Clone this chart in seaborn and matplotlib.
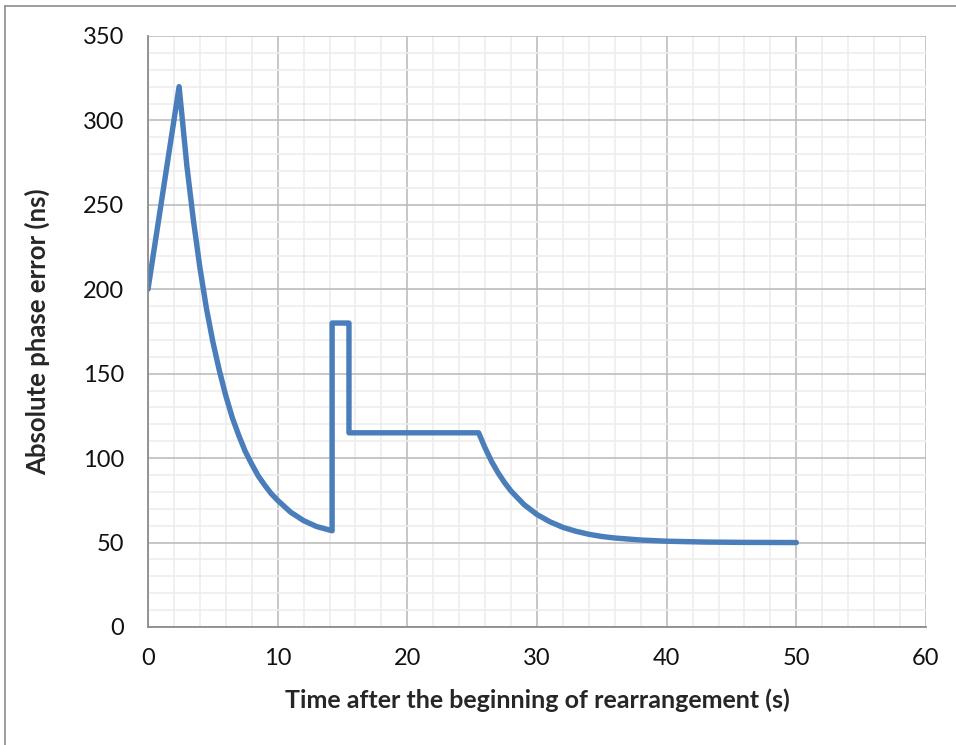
import matplotlib
matplotlib.use("Agg")
import matplotlib.pyplot as plt
import seaborn as sns
import pandas as pd
from matplotlib.lines import Line2D
from matplotlib.ticker import MultipleLocator

# values
time_s = [0, 2.4, 3, 3.5, 4, 4.5, 5, 5.5, 6, 6.5, 7, 7.5, 8, 8.5, 9, 9.5, 10, 11, 12, 13, 14.2,
          14.2, 15.5, 15.5, 25.5,
          26, 26.5, 27, 27.5, 28, 29, 30, 31, 32, 33, 34, 35, 36, 38, 40, 43, 46, 50]
phase_err_ns = [200, 320, 273, 241, 213, 189, 169, 152, 137, 124, 113.5, 104, 96.5, 89.5, 84, 79, 75, 68, 63, 59.5, 57,
                180, 180, 115, 115,
                106, 98, 91.3, 85.5, 80.5, 72.5, 66.6, 62.3, 59, 56.7, 54.9, 53.6, 52.7, 51.5, 50.8, 50.3, 50.1, 50]

x_ticks = [0, 10, 20, 30, 40, 50, 60]
y_ticks = [0, 50, 100, 150, 200, 250, 300, 350]

df = pd.DataFrame({'t': time_s, 'err': phase_err_ns})

sns.set_style("white")
plt.rcParams['font.family'] = ['Lato', 'DejaVu Sans']

fig = plt.figure(figsize=(9.56, 7.45), dpi=100)
ax = fig.add_axes([0.1548, 0.1584, 0.8138, 0.7933])

# grid first so the line sits on top
ax.xaxis.set_minor_locator(MultipleLocator(2))
ax.yaxis.set_minor_locator(MultipleLocator(10))
ax.grid(which='minor', color='#EDEDED', linewidth=1.2, zorder=0)
ax.grid(which='major', color='#BDBDBD', linewidth=1.2, zorder=0.5)
ax.set_axisbelow(True)

sns.lineplot(data=df, x='t', y='err', sort=False, estimator=None, ax=ax,
             color='#4A7EBB', linewidth=3.9, solid_joinstyle='round', solid_capstyle='round')

ax.set_xlim(0, 60)
ax.set_ylim(0, 350)
ax.set_xticks(x_ticks)
ax.set_yticks(y_ticks)
ax.tick_params(which='major', direction='out', length=6, width=1.2, color='#8C8C8C',
               labelsize=17, labelcolor='#111111')
ax.tick_params(axis='y', pad=11)
ax.tick_params(axis='x', pad=9)
ax.tick_params(which='minor', length=0)

for side in ['top', 'right']:
    ax.spines[side].set_visible(False)
for side in ['left', 'bottom']:
    ax.spines[side].set_color('#8C8C8C')
    ax.spines[side].set_linewidth(1.3)

ax.set_xlabel('Time after the beginning of rearrangement (s)', fontsize=18,
              fontweight='bold', labelpad=14)
ax.set_ylabel('Absolute phase error (ns)', fontsize=18.5, fontweight='bold', labelpad=24)

# chart area border (left and top edges visible in the reference)
fig.add_artist(Line2D([5 / 956, 5 / 956], [0, 1 - 6 / 745], transform=fig.transFigure,
                      color='#8C8C8C', linewidth=1.2))
fig.add_artist(Line2D([5 / 956, 1], [1 - 6 / 745, 1 - 6 / 745], transform=fig.transFigure,
                      color='#8C8C8C', linewidth=1.2))

fig.savefig('out.png', dpi=100)
